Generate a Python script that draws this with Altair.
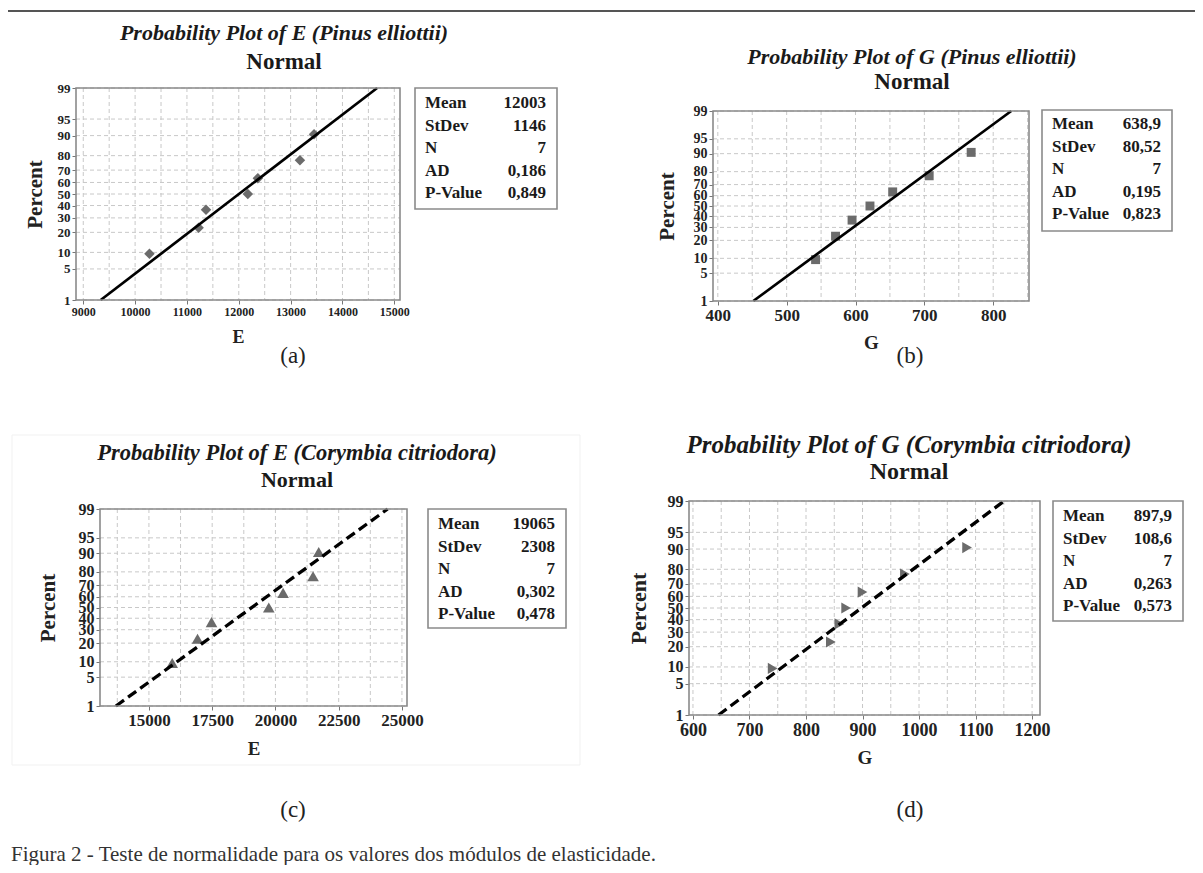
import math
import altair as alt
import pandas as pd

# ---------------- data ----------------
pct_points = [9.46, 22.97, 36.49, 50.0, 63.51, 77.03, 90.54]
e_pinus = [10277, 11226, 11368, 12174, 12368, 13180, 13452]
g_pinus = [542, 571, 595, 621, 654, 707, 768]
e_cory = [15921, 16921, 17474, 19737, 20303, 21487, 21711]
g_cory = [741, 844, 859, 871, 900, 975, 1085]

means = [12003, 638.9, 19065, 897.9]
stdevs = [1146, 80.52, 2308, 108.6]
ns = [7, 7, 7, 7]
ads = [0.186, 0.195, 0.302, 0.263]
pvals = [0.849, 0.823, 0.478, 0.573]

titles = [
    "Probability Plot of E (Pinus elliottii)",
    "Probability Plot of G (Pinus elliottii)",
    "Probability Plot of E (Corymbia citriodora)",
    "Probability Plot of G (Corymbia citriodora)",
]
subtitle = "Normal"
x_titles = ["E", "G", "E", "G"]
y_title = "Percent"
panel_tags = ["(a)", "(b)", "(c)", "(d)"]
stat_labels = ["Mean", "StDev", "N", "AD", "P-Value"]
y_tick_pcts = [1, 5, 10, 20, 30, 40, 50, 60, 70, 80, 90, 95, 99]
line_pcts = [1, 99]
x_ticks = [
    [9000, 10000, 11000, 12000, 13000, 14000, 15000],
    [400, 500, 600, 700, 800],
    [15000, 17500, 20000, 22500, 25000],
    [600, 700, 800, 900, 1000, 1100, 1200],
]
x_grids = [
    [9000, 9500, 10000, 10500, 11000, 11500, 12000, 12500, 13000, 13500, 14000, 14500, 15000],
    [400, 450, 500, 550, 600, 650, 700, 750, 800, 850],
    [13750, 15000, 16250, 17500, 18750, 20000, 21250, 22500, 23750, 25000],
    [600, 650, 700, 750, 800, 850, 900, 950, 1000, 1050, 1100, 1150, 1200],
]
x_domains = [[8860, 15110], [393, 852], [13066, 25200], [593, 1214]]
series = [e_pinus, g_pinus, e_cory, g_cory]
caption = "Figura 2 - Teste de normalidade para os valores dos módulos de elasticidade."


def fmt(v):
    return str(v).replace(".", ",")


def probit(p):
    lo, hi = -10.0, 10.0
    for _ in range(200):
        mid = (lo + hi) / 2
        if 0.5 * (1 + math.erf(mid / math.sqrt(2))) < p:
            lo = mid
        else:
            hi = mid
    return (lo + hi) / 2


z_ticks = [probit(p / 100) for p in y_tick_pcts]
z_lo, z_hi = z_ticks[0], z_ticks[-1]

# ---------------- layout (page pixels) ----------------
W, H = 1187, 857
SERIF = "Liberation Serif"


def P(v):
    return v - 8


layout = [
    dict(left=76, top=88, right=400, bottom=300, tx=284, ty=33, ny=62, tfs=22, nfs=23,
         legend=(415, 88, 557, 209), leg_first=15, pct_x=35, pct_fs=21, xt_y=337, xt_fs=18,
         tag=(293, 356), ylab=13, xlab=12, shape="diamond", size=110, dash=None),
    dict(left=713, top=111, right=1029, bottom=301, tx=912, ty=57, ny=82, tfs=22, nfs=23,
         legend=(1042, 110, 1172, 231), leg_first=14, pct_x=667, pct_fs=21, xt_y=342, xt_fs=19,
         tag=(910, 356), ylab=14, xlab=17, shape="square", size=80, dash=None),
    dict(left=100, top=509, right=407, bottom=706, tx=297, ty=453, ny=480, tfs=22.5, nfs=22,
         legend=(428, 509, 566, 628), leg_first=15, pct_x=48, pct_fs=21, xt_y=748, xt_fs=19,
         tag=(293, 810), ylab=16, xlab=17, shape="triangle-up", size=135, dash=[10, 5]),
    dict(left=689, top=501, right=1040, bottom=715, tx=909, ty=445, ny=472, tfs=25, nfs=24,
         legend=(1053, 501, 1183, 621), leg_first=15, pct_x=638, pct_fs=22, xt_y=757, xt_fs=19,
         tag=(910, 810), ylab=16, xlab=18, shape="triangle-right", size=125, dash=[10, 5]),
]


def text_layer(s, x, y, size, weight="normal", style="normal", align="center",
               angle=0, color="#1a1a1a", font=SERIF, baseline="middle"):
    props = dict(align=align, baseline=baseline, fontSize=size, fontWeight=weight,
                 fontStyle=style, font=font, color=color)
    if angle:
        props["angle"] = angle
    return alt.Chart(pd.DataFrame({"t": [s]})).mark_text(**props).encode(
        text="t:N", x=alt.value(P(x)), y=alt.value(P(y)))


def box_layer(x0, y0, x1, y1, color, width):
    return alt.Chart(pd.DataFrame({"k": [0]})).mark_rect(
        fill="transparent", stroke=color, strokeWidth=width).encode(
        x=alt.value(P(x0)), x2=alt.value(P(x1)), y=alt.value(P(y0)), y2=alt.value(P(y1)))


def panel(i):
    c = layout[i]
    xs = alt.Scale(domain=x_domains[i], range=[P(c["left"]), P(c["right"])], zero=False, nice=False)
    ys = alt.Scale(domain=[z_lo, z_hi], range=[P(c["bottom"]), P(c["top"])], zero=False, nice=False)
    xaxis = alt.Axis(values=x_ticks[i], orient="bottom", offset=P(c["bottom"]) - H,
                     domain=False, grid=False, tickSize=4, tickColor="#777",
                     labelFont=SERIF, labelFontWeight="bold", labelFontSize=c["xlab"],
                     labelColor="#222", labelPadding=2, labelOverlap=False, labelFlush=False,
                     format="d", title=x_titles[i], titleFont=SERIF, titleFontSize=c["xt_fs"],
                     titleFontWeight="bold", titleColor="#222", titleBaseline="middle",
                     titleY=c["xt_y"] - c["bottom"])
    yaxis = alt.Axis(values=z_ticks, orient="left", offset=-P(c["left"]),
                     domain=False, grid=False, tickSize=4, tickColor="#777",
                     labelFont=SERIF, labelFontWeight="bold", labelFontSize=c["ylab"],
                     labelColor="#222", labelPadding=2, labelOverlap=False, labelFlush=False,
                     labelExpr="format(cumulativeNormal(datum.value)*100, '.0f')",
                     title=y_title, titleFont=SERIF, titleFontSize=c["pct_fs"], titleFontWeight="bold",
                     titleColor="#222", titleAngle=270, titleBaseline="middle",
                     titleX=c["pct_x"] - c["left"])
    X = alt.X("x:Q", scale=xs, axis=xaxis)
    Y = alt.Y("z:Q", scale=ys, axis=yaxis)

    vgrid = alt.Chart(pd.DataFrame({"x": x_grids[i]})).mark_rule(
        color="#c8c8c8", strokeDash=[4, 3], strokeWidth=1).encode(
        x=X, y=alt.value(P(c["top"])), y2=alt.value(P(c["bottom"])))
    hgrid = alt.Chart(pd.DataFrame({"pct": y_tick_pcts})).transform_calculate(
        z="quantileNormal(datum.pct/100)").mark_rule(
        color="#c8c8c8", strokeDash=[4, 3], strokeWidth=1).encode(
        y=Y, x=alt.value(P(c["left"])), x2=alt.value(P(c["right"])))
    line_props = dict(color="#000000", strokeWidth=2.7 if c["dash"] is None else 3.3)
    if c["dash"] is not None:
        line_props["strokeDash"] = c["dash"]
    line = alt.Chart(pd.DataFrame({"pct": line_pcts})).transform_calculate(
        z="quantileNormal(datum.pct/100)").transform_calculate(
        x=f"{means[i]} + {stdevs[i]} * datum.z").mark_line(**line_props).encode(x=X, y=Y)
    pts = alt.Chart(pd.DataFrame({"x": series[i], "pct": pct_points})).transform_calculate(
        z="quantileNormal(datum.pct/100)").mark_point(
        shape=c["shape"], filled=True, color="#6b6b6b", size=c["size"], opacity=1).encode(x=X, y=Y)
    return alt.layer(vgrid, hgrid, pts, line)


layers = []
# very faint border of the pasted (c) panel image
layers.append(box_layer(12, 435, 580, 765, "#f1f1f1", 1))
for i in range(4):
    layers.append(panel(i))

for i in range(4):
    c = layout[i]
    layers.append(box_layer(c["left"], c["top"], c["right"], c["bottom"], "#8a8a8a", 1.6))
    layers.append(text_layer(titles[i], c["tx"], c["ty"], c["tfs"], weight="bold", style="italic"))
    layers.append(text_layer(subtitle, c["tx"], c["ny"], c["nfs"], weight="bold"))
    lx0, ly0, lx1, ly1 = c["legend"]
    layers.append(box_layer(lx0, ly0, lx1, ly1, "#8a8a8a", 1.6))
    vals = [fmt(means[i]), fmt(stdevs[i]), fmt(ns[i]), fmt(ads[i]), fmt(pvals[i])]
    for r in range(5):
        yy = ly0 + c["leg_first"] + r * 22.6
        layers.append(text_layer(stat_labels[r], lx0 + 10, yy, 17, weight="bold", align="left"))
        layers.append(text_layer(vals[r], lx1 - 11, yy, 17, weight="bold", align="right"))
    layers.append(text_layer(panel_tags[i], c["tag"][0], c["tag"][1], 23, color="#222"))

# outer frame and caption
layers.append(box_layer(7, 11, 1240, 900, "#555555", 2))
layers.append(text_layer(caption, 11, 861, 21, align="left", color="#333", baseline="alphabetic"))

chart = alt.layer(*layers).resolve_scale(
    x="independent", y="independent").resolve_axis(
    x="independent", y="independent").properties(
    width=W, height=H, autosize=alt.AutoSizeParams(type="none"), padding=0,
    background="white").configure_view(strokeWidth=0)

chart.save("out.html", embed_options={"renderer": "svg", "actions": False})
